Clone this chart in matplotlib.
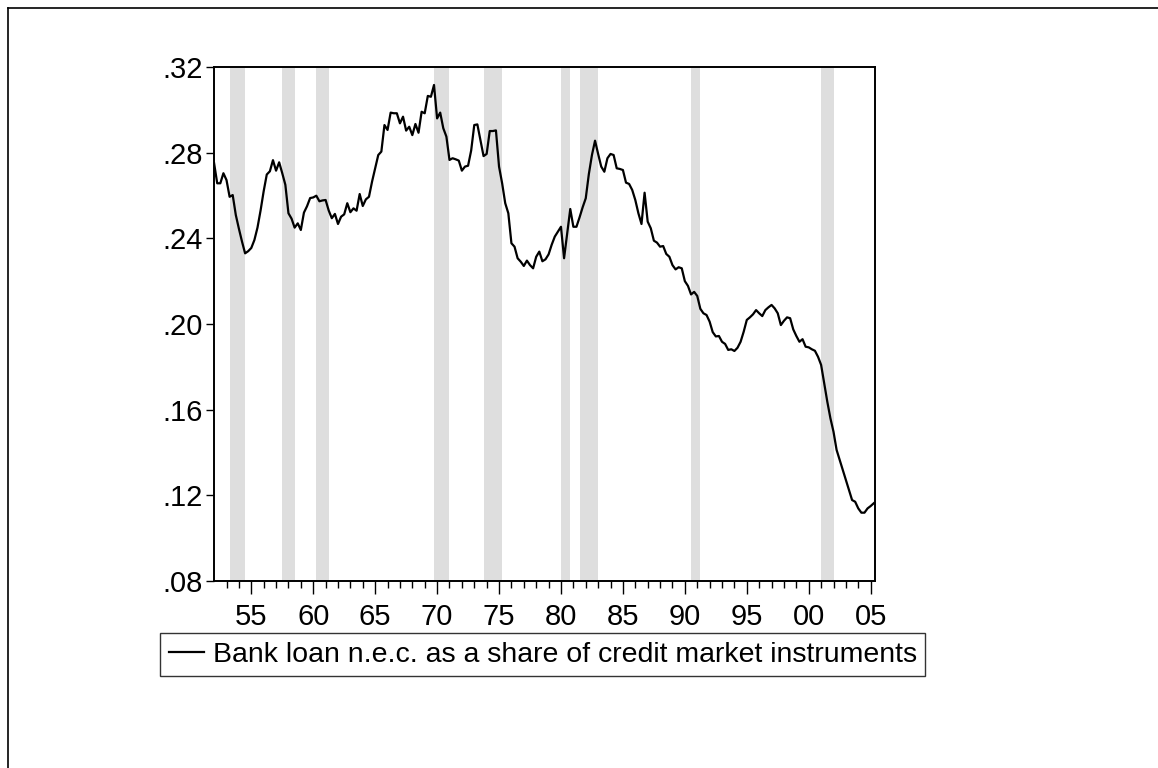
import matplotlib
matplotlib.use('Agg')
import matplotlib.pyplot as plt
from matplotlib.lines import Line2D
import numpy as np

# ── Data ───────────────────────────────────────────────────────────────
START_YEAR = 1952  # 1952Q1, quarterly

share = [
    .2750, .2657, .2657, .2704, .2672, .2594, .2602, .2509,   # 52-53
    .2445, .2385, .2330, .2340, .2355, .2392, .2450, .2530,   # 54-55
    .2620, .2698, .2713, .2765, .2716, .2755, .2704, .2650,   # 56-57
    .2517, .2492, .2450, .2470, .2439, .2520, .2550, .2588,   # 58-59
    .2591, .2599, .2573, .2577, .2579, .2530, .2494, .2514,   # 60-61
    .2467, .2501, .2512, .2564, .2522, .2540, .2529, .2607,   # 62-63
    .2551, .2582, .2594, .2665, .2727, .2789, .2805, .2929,   # 64-65
    .2906, .2987, .2984, .2984, .2937, .2968, .2903, .2921,   # 66-67
    .2882, .2934, .2893, .2991, .2984, .3065, .3061, .3116,   # 68-69
    .2960, .2987, .2914, .2875, .2766, .2774, .2769, .2763,   # 70-71
    .2716, .2735, .2739, .2810, .2929, .2932, .2859, .2784,   # 72-73
    .2794, .2901, .2901, .2904, .2735, .2657, .2564, .2517,   # 74-75
    .2377, .2361, .2307, .2291, .2271, .2296, .2275, .2260,   # 76-77
    .2314, .2338, .2293, .2302, .2325, .2370, .2408, .2431,   # 78-79
    .2454, .2307, .2423, .2537, .2454, .2454, .2498, .2545,   # 80-81
    .2587, .2700, .2789, .2856, .2794, .2735, .2711, .2774,   # 82-83
    .2794, .2789, .2727, .2724, .2719, .2660, .2654, .2626,   # 84-85
    .2579, .2517, .2467, .2613, .2478, .2447, .2389, .2380,   # 86-87
    .2361, .2364, .2327, .2314, .2275, .2255, .2265, .2260,   # 88-89
    .2200, .2178, .2138, .2150, .2131, .2071, .2050, .2042,   # 90-91
    .2011, .1962, .1942, .1944, .1917, .1907, .1879, .1882,   # 92-93
    .1874, .1889, .1917, .1964, .2019, .2031, .2045, .2065,   # 94-95
    .2050, .2037, .2065, .2078, .2089, .2073, .2050, .1995,   # 96-97
    .2015, .2031, .2027, .1975, .1944, .1917, .1929, .1894,   # 98-99
    .1891, .1882, .1875, .1847, .1809, .1723, .1637, .1560,   # 00-01
    .1497, .1412, .1365, .1318, .1272, .1225, .1178, .1170,   # 02-03
    .1139, .1119, .1119, .1139, .1150, .1163,                 # 04-05Q2
]

# NBER recessions (peak quarter start, end of trough quarter)
rec_start = [1953.25, 1957.50, 1960.25, 1969.75, 1973.75, 1980.00, 1981.50, 1990.50, 2001.00]
rec_end   = [1954.50, 1958.50, 1961.25, 1971.00, 1975.25, 1980.75, 1983.00, 1991.25, 2002.00]

ytick_vals = [.08, .12, .16, .20, .24, .28, .32]
ytick_labels = ['.08', '.12', '.16', '.20', '.24', '.28', '.32']
xtick_years = [1955, 1960, 1965, 1970, 1975, 1980, 1985, 1990, 1995, 2000, 2005]
xtick_labels = ['55', '60', '65', '70', '75', '80', '85', '90', '95', '00', '05']

LABEL = 'Bank loan n.e.c. as a share of credit market instruments'

plt.rcParams['font.family'] = ['Liberation Sans', 'DejaVu Sans']
FS = 21

# ── Chart ──────────────────────────────────────────────────────────────
fig = plt.figure(figsize=(11.58, 7.68), dpi=100)
ax = fig.add_axes([214 / 1158, 1 - 581 / 768, (875 - 214) / 1158, (581 - 67) / 768])

t = START_YEAR + np.arange(len(share)) / 4.0

for s, e in zip(rec_start, rec_end):
    ax.axvspan(s, e, color='#DEDEDE', lw=0, zorder=0)

line, = ax.plot(t, share, color='black', lw=1.6, zorder=3, label=LABEL)

ax.set_xlim(START_YEAR - 0.01, 2005.35)
ax.set_ylim(0.08, 0.32)

ax.set_yticks(ytick_vals)
ax.set_yticklabels(ytick_labels)
ax.set_xticks(xtick_years)
ax.set_xticklabels(xtick_labels)
ax.set_xticks(np.arange(1953, 2006), minor=True)

ax.tick_params(axis='y', which='major', direction='out', length=6, width=1,
               labelsize=FS, pad=2, right=False)
ax.tick_params(axis='x', which='major', direction='out', length=9, width=1,
               labelsize=FS, pad=7, top=False)
ax.tick_params(axis='x', which='minor', direction='out', length=5, width=1, top=False)

for sp in ax.spines.values():
    sp.set_linewidth(1.4)

leg = ax.legend(handles=[line], loc='upper left',
                bbox_to_anchor=(160 / 1158, 1 - 633 / 768),
                bbox_transform=fig.transFigure, fontsize=20.5,
                frameon=True, fancybox=False, shadow=False,
                handlelength=1.25, handletextpad=0.3, borderpad=0.3,
                borderaxespad=0)
leg.get_frame().set_edgecolor('black')
leg.get_frame().set_linewidth(1.0)

# outer frame of the graph window
fig.add_artist(Line2D([8 / 1158, 8 / 1158], [0, 1 - 8 / 768],
                      transform=fig.transFigure, color='black', lw=1.2))
fig.add_artist(Line2D([8 / 1158, 1], [1 - 8 / 768, 1 - 8 / 768],
                      transform=fig.transFigure, color='black', lw=1.2))

fig.savefig('out.png', dpi=100)
